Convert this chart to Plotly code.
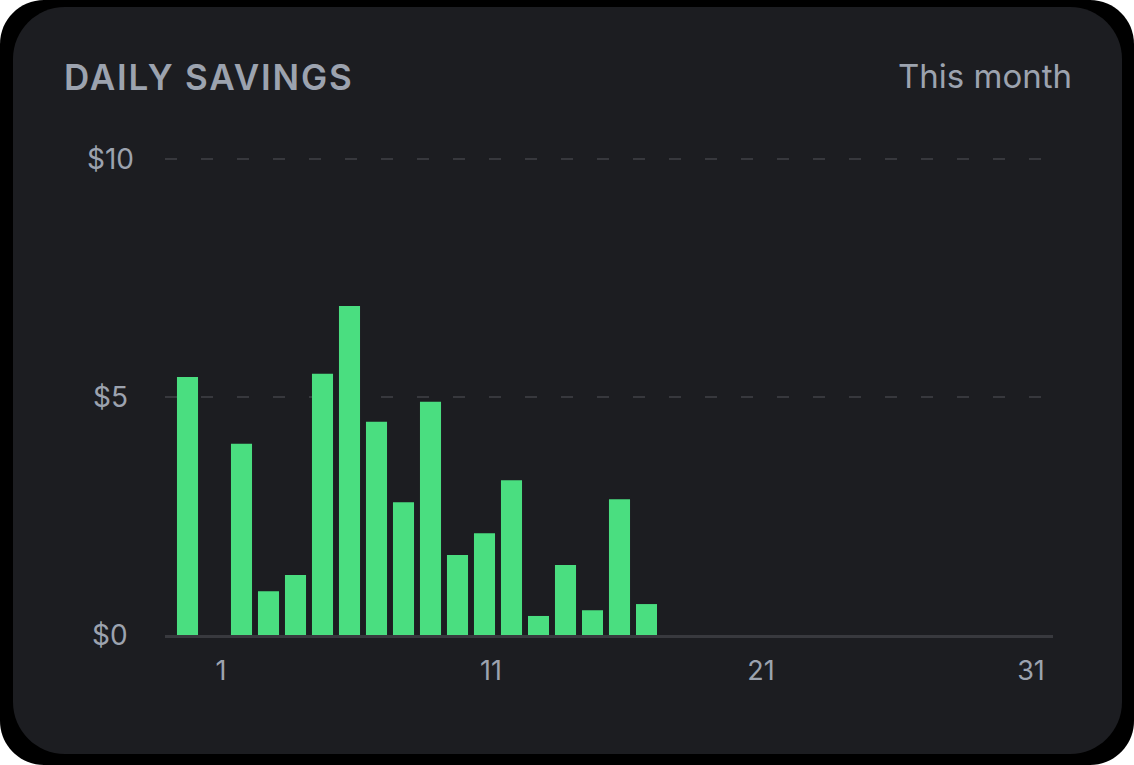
import plotly.graph_objects as go

# ---- data ----
days = [1, 2, 3, 4, 5, 6, 7, 8, 9, 10, 11, 12, 13, 14, 15, 16, 17, 18]
savings = [5.42, 0, 4.02, 0.92, 1.26, 5.49, 6.91, 4.48, 2.79, 4.90, 1.68, 2.14, 3.25, 0.40, 1.47, 0.52, 2.85, 0.65]
x_tick_days = [1, 11, 21, 31]
x_tick_text = ["1", "11", "21", "31"]
y_tick_vals = [0, 5, 10]
y_tick_text = ["$0", "$5", "$10"]
title_text = "DAILY SAVINGS"
period_text = "This month"

# ---- style ----
W, H = 1134, 765
CARD = "#1c1d21"
GREEN = "#4ade80"
GRAY = "#9ca3af"
GRID = "#37383d"
FONT = "Inter"
LABEL_OFFSET = 1.24  # x labels sit to the right of their day bar


def px(x, y):
    return f"{x / W:.6f},{1 - y / H:.6f}"


def rounded_rect(x0, y0, x1, y1, r):
    k = 0.5523 * r
    return (
        f"M{px(x0 + r, y0)} L{px(x1 - r, y0)} "
        f"C{px(x1 - r + k, y0)} {px(x1, y0 + r - k)} {px(x1, y0 + r)} "
        f"L{px(x1, y1 - r)} "
        f"C{px(x1, y1 - r + k)} {px(x1 - r + k, y1)} {px(x1 - r, y1)} "
        f"L{px(x0 + r, y1)} "
        f"C{px(x0 + r - k, y1)} {px(x0, y1 - r + k)} {px(x0, y1 - r)} "
        f"L{px(x0, y0 + r)} "
        f"C{px(x0, y0 + r - k)} {px(x0 + r - k, y0)} {px(x0 + r, y0)} Z"
    )


# plot area in pixels
PL, PR = 165, 1053
PB, PT = 635, 149.5
BAR_STEP = 27.0
FIRST_BAR = 187.5
x_lo = 1 - (FIRST_BAR - PL) / BAR_STEP
x_hi = x_lo + (PR - PL) / BAR_STEP
y_top = (PB - PT) / 47.6

fig = go.Figure()
fig.add_trace(go.Bar(x=days, y=savings, marker=dict(color=GREEN, line=dict(width=0)),
                     hoverinfo="skip"))

shapes = [
    dict(type="path", xref="paper", yref="paper", layer="below",
         path=rounded_rect(0, 0, W, H, 44), fillcolor="#000000", line=dict(width=0)),
    dict(type="path", xref="paper", yref="paper", layer="below",
         path=rounded_rect(13, 7, 1122, 754, 52), fillcolor=CARD, line=dict(width=0)),
]

annotations = [
    dict(text=f'<span style="letter-spacing:1.8px">{title_text}</span>',
         xref="paper", yref="paper", x=62 / W, y=1 - 77 / H,
         xanchor="left", yanchor="middle", showarrow=False,
         font=dict(family=FONT, size=35, color=GRAY, weight=600)),
    dict(text=period_text, xref="paper", yref="paper", x=1074 / W, y=1 - 76 / H,
         xanchor="right", yanchor="middle", showarrow=False,
         font=dict(family=FONT, size=33, color=GRAY)),
]
for v, t in zip(y_tick_vals, y_tick_text):
    annotations.append(dict(text=t, xref="paper", yref="y", x=110 / W, y=v,
                            xanchor="center", yanchor="middle", showarrow=False,
                            font=dict(family=FONT, size=28, color=GRAY)))

fig.update_layout(
    width=W, height=H,
    margin=dict(l=0, r=0, t=0, b=0),
    paper_bgcolor="#ffffff",
    plot_bgcolor="rgba(0,0,0,0)",
    showlegend=False,
    bargap=0.22,
    shapes=shapes,
    annotations=annotations,
    xaxis=dict(
        domain=[PL / W, PR / W], range=[x_lo, x_hi],
        tickvals=[d + LABEL_OFFSET for d in x_tick_days], ticktext=x_tick_text,
        showgrid=False, zeroline=False,
        showline=True, linecolor="#38393e", linewidth=3,
        ticks="", ticklabelstandoff=10,
        tickfont=dict(family=FONT, size=27, color=GRAY),
    ),
    yaxis=dict(
        domain=[1 - PB / H, 1 - PT / H], range=[0, y_top],
        tickvals=[v for v in y_tick_vals if v > 0],
        showticklabels=False, ticks="",
        showgrid=True, gridcolor=GRID, gridwidth=2, griddash="12px,24px",
        zeroline=False, showline=False,
    ),
)

fig.write_html("out.html")
